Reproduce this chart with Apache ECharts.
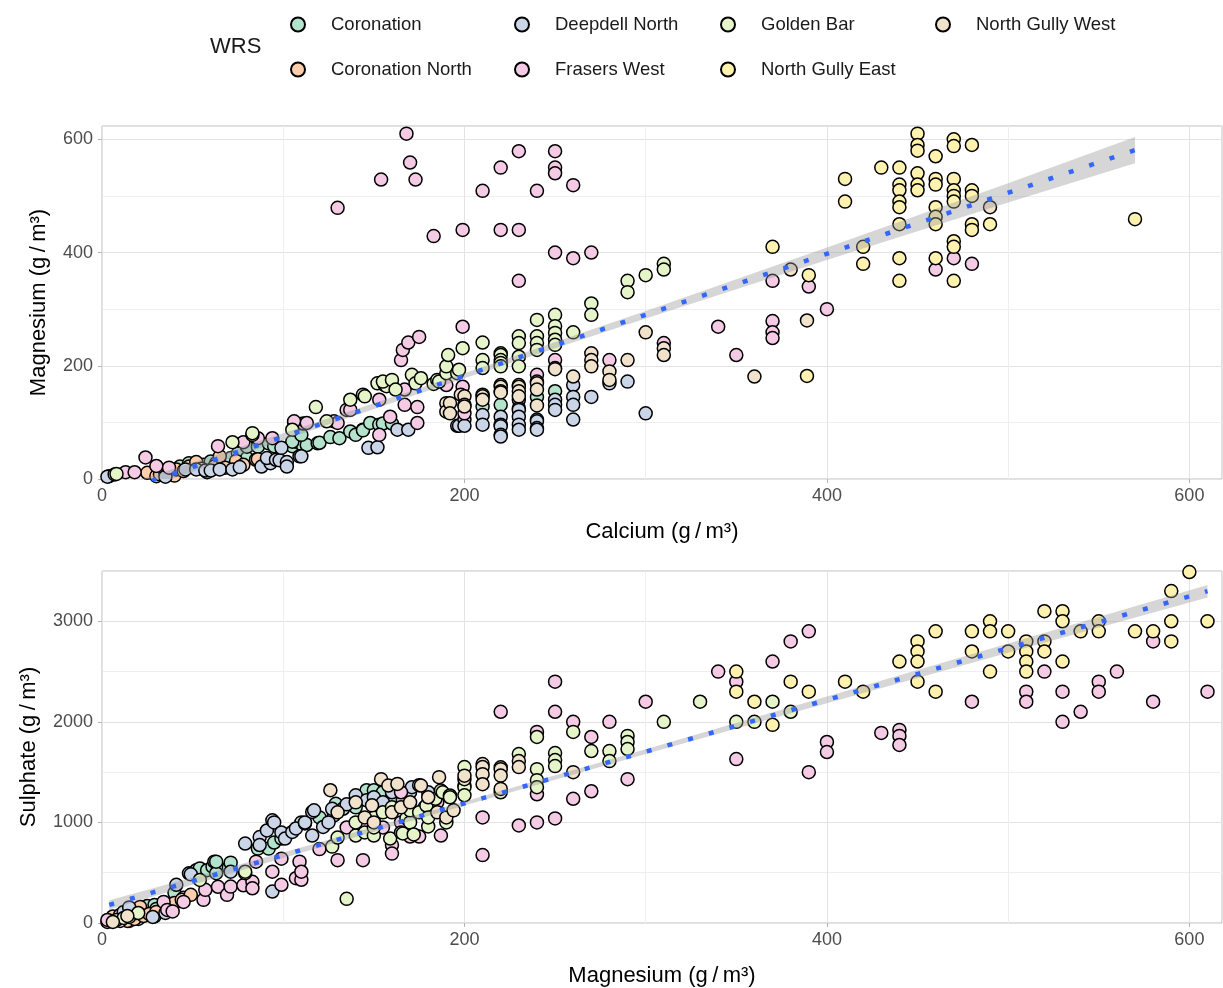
<!DOCTYPE html>
<html>
<head>
<meta charset="utf-8">
<script src="https://cdn.jsdelivr.net/npm/echarts@6/dist/echarts.min.js"></script>
<style>
  html, body { margin: 0; padding: 0; background: #fff; }
  #chart { width: 1223px; height: 988px; }
</style>
</head>
<body>
<div id="chart"></div>
<script>
// Waste rock stockpile (WRS) water chemistry: Mg vs Ca, and SO4 vs Mg (g/m3)
const sites = ['Coronation', 'Coronation North', 'Deepdell North', 'Frasers West',
               'Golden Bar', 'North Gully East', 'North Gully West'];
const siteColors = ['#B3E2CD', '#FDCDAC', '#CBD5E8', '#F4CAE4', '#E6F5C9', '#FFF2AE', '#F1E2CC'];

// ---- Calcium (x) vs Magnesium (y) ----
const caMgCoronation = [[35,15],[43,22],[48,28],[56,25],[60,31],[63,28],[71,37],[75,45],[80,37],[80,57],[86,57],[92,63],[95,58],[105,58],[107,66],[111,58],[105,66],[113,60],[110,78],[119,63],[120,64],[126,74],[131,72],[137,84],[140,78],[144,87],[144,86],[148,99],[153,96],[155,98],[160,98],[210,128],[220,131],[240,145],[250,155]];
const caMgCoronationNorth = [[4,5],[25,11],[30,5],[32,8],[35,10],[40,6],[41,17],[45,14],[48,22],[52,30],[55,18],[58,12],[62,22],[65,40],[68,20],[74,32],[78,25],[85,34],[86,35]];
const caMgDeepdell = [[3,4],[35,4],[46,17],[52,17],[57,15],[60,15],[65,17],[72,17],[76,21],[88,22],[93,28],[91,37],[96,34],[98,33],[102,30],[102,22],[109,40],[110,40],[99,55],[147,55],[152,56],[163,87],[169,87],[196,94],[197,94],[200,105],[200,94],[210,113],[210,96],[220,110],[220,96],[220,93],[220,78],[220,75],[230,140],[230,125],[230,122],[230,110],[230,96],[230,87],[240,105],[240,102],[240,90],[240,87],[250,140],[250,131],[250,122],[260,166],[260,145],[260,131],[260,105],[270,145],[280,169],[290,172],[300,116]];
const caMgFrasers = [[13,12],[18,12],[24,38],[30,23],[37,20],[64,58],[78,65],[86,72],[94,72],[106,100],[111,98],[106,102],[128,102],[113,99],[130,99],[135,122],[137,122],[153,78],[153,140],[159,110],[167,131],[167,158],[174,127],[174,99],[130,479],[154,529],[168,610],[170,559],[173,529],[165,210],[166,228],[169,241],[175,251],[183,429],[190,166],[199,440],[199,269],[199,163],[200,116],[210,509],[220,550],[220,440],[230,579],[230,440],[230,350],[240,509],[240,184],[250,579],[250,550],[250,540],[250,400],[250,210],[260,519],[260,390],[270,400],[280,210],[310,240],[340,269],[350,219],[370,350],[370,279],[370,259],[370,249],[390,340],[400,300],[460,370],[470,390],[480,380]];
const caMgGoldenBar = [[7,8],[8,9],[72,65],[83,78],[83,81],[105,87],[118,127],[124,102],[137,140],[144,149],[145,146],[152,169],[156,166],[157,164],[155,172],[160,175],[162,158],[171,184],[173,169],[176,178],[183,168],[185,175],[186,172],[190,187],[190,199],[191,219],[196,187],[197,193],[199,231],[210,241],[210,210],[210,196],[220,222],[220,219],[220,210],[220,205],[220,199],[230,252],[230,240],[230,216],[230,199],[240,281],[240,252],[240,240],[240,228],[250,290],[250,270],[250,258],[250,246],[250,237],[260,259],[270,310],[270,290],[290,350],[290,330],[300,360],[310,380],[310,370]];
const caMgNGEast = [[370,410],[389,182],[390,360],[410,530],[410,490],[420,410],[420,380],[430,550],[440,550],[440,520],[440,510],[440,490],[440,480],[440,450],[440,390],[440,350],[450,610],[450,590],[450,580],[450,540],[450,520],[450,510],[460,570],[460,530],[460,520],[460,480],[460,463],[460,450],[460,390],[470,600],[470,588],[470,530],[470,510],[470,500],[470,490],[470,420],[470,410],[470,350],[480,590],[480,510],[480,500],[480,450],[480,440],[490,450],[570,459]];
const caMgNGWest = [[190,134],[190,119],[192,134],[192,116],[198,149],[200,146],[200,131],[200,128],[210,149],[210,146],[210,140],[220,166],[220,163],[220,155],[220,153],[230,166],[230,163],[230,155],[230,146],[240,172],[240,169],[240,158],[240,130],[250,196],[250,194],[260,181],[270,222],[270,210],[270,199],[280,190],[280,175],[290,210],[300,259],[310,231],[310,219],[360,181],[380,370],[389,280],[490,480]];

// ---- Magnesium (x) vs Sulphate (y) ----
const mgSo4Coronation = [[15,20],[20,40],[25,110],[25,170],[29,65],[29,180],[30,140],[35,150],[37,180],[40,300],[45,250],[48,494],[50,494],[52,525],[54,543],[58,525],[61,560],[62,610],[63,495],[63,610],[70,550],[71,600],[86,740],[92,740],[95,800],[99,840],[110,1000],[120,1050],[128,1070],[129,1185],[133,1136],[140,1150],[146,1320],[150,1320],[155,1300],[160,1250]];
const mgSo4CoronationNorth = [[3,10],[6,65],[8,30],[10,80],[12,45],[14,20],[17,100],[18,40],[19,100],[21,160],[23,70],[26,90],[30,110],[36,160],[40,200],[44,230],[49,280]];
const mgSo4Deepdell = [[5,20],[12,110],[15,155],[28,60],[35,100],[41,380],[49,484],[71,510],[79,790],[87,855],[87,775],[91,920],[94,313],[94,1021],[95,1000],[99,900],[101,840],[105,905],[107,940],[112,990],[112,1000],[116,870],[116,1104],[117,1120],[122,955],[125,1000],[127,1135],[135,1180],[140,1270],[146,1220],[150,1250],[155,1200],[160,1300],[166,1220],[170,1300],[171,1350],[180,1300]];
const mgSo4Frasers = [[3,30],[10,20],[34,210],[36,130],[39,115],[45,210],[56,230],[57,330],[64,360],[69,280],[71,362],[78,375],[83,410],[83,345],[85,610],[94,510],[99,380],[99,640],[107,445],[109,610],[110,430],[110,510],[120,735],[130,625],[135,950],[144,625],[145,1000],[150,900],[155,950],[160,775],[160,690],[165,1000],[165,1300],[170,860],[170,1050],[175,860],[178,1150],[185,1200],[187,870],[210,1050],[210,675],[220,2100],[230,970],[240,1900],[240,1280],[240,1000],[250,2400],[250,2100],[250,1040],[260,2000],[260,1235],[270,1850],[270,1310],[280,2000],[290,1430],[300,2200],[340,2500],[350,2400],[350,1630],[370,2600],[380,2800],[390,2900],[390,1500],[400,1800],[400,1700],[430,1890],[440,1920],[440,1860],[440,1770],[480,2200],[510,2300],[510,2200],[520,2500],[530,2300],[530,2000],[540,2100],[550,2400],[550,2300],[560,2500],[580,2800],[580,2200],[610,2300]];
const mgSo4GoldenBar = [[8,30],[12,50],[15,60],[20,100],[54,428],[79,495],[79,510],[127,760],[130,850],[135,240],[140,870],[140,1000],[145,900],[150,870],[150,950],[150,1050],[155,1100],[159,840],[160,1150],[165,900],[166,890],[168,1040],[170,1000],[170,1120],[172,880],[175,1100],[179,1168],[180,960],[180,1050],[184,1235],[187,1317],[188,1300],[190,1000],[192,1268],[192,1250],[200,1550],[200,1370],[200,1350],[200,1270],[220,1300],[230,1680],[240,1850],[240,1530],[240,1420],[240,1350],[250,1690],[250,1620],[250,1560],[260,1900],[270,1710],[280,1710],[280,1610],[290,1860],[290,1800],[290,1730],[310,2000],[330,2200],[350,2000],[360,2000],[370,2200],[380,2100]];
const mgSo4NGEast = [[350,2500],[350,2300],[360,2200],[370,1970],[380,2400],[390,2300],[410,2400],[420,2300],[440,2600],[450,2800],[450,2700],[450,2600],[450,2400],[460,2900],[460,2300],[480,2900],[480,2700],[490,3000],[490,2900],[490,2500],[500,2900],[500,2700],[510,2800],[510,2700],[510,2600],[510,2500],[520,3100],[520,2800],[520,2700],[530,3100],[530,3000],[530,2600],[540,2900],[550,3000],[550,2900],[570,2900],[580,2900],[590,3300],[590,3000],[590,2800],[600,3490],[610,3000]];
const mgSo4NGWest = [[6,10],[14,70],[126,1320],[130,1100],[140,1200],[145,1050],[149,1170],[150,1000],[154,1430],[158,1367],[160,1100],[163,1383],[165,1150],[170,1200],[175,1370],[176,1367],[180,1250],[185,1100],[186,1450],[190,1050],[194,1120],[200,1430],[200,1465],[210,1580],[210,1550],[210,1480],[210,1380],[220,1548],[220,1530],[220,1466],[220,1333],[230,1610],[230,1550],[260,1500]];

// Linear fits with 95% confidence bands
const fitCaMgX = [5, 570];
const fitCaMgY = [-27.6, 580.9];
const bandCaMgX  = [5, 100, 200, 300, 400, 500, 570];
const bandCaMgLo = [-37.6, 68.7, 177.9, 283.6, 386.8, 488.5, 557.9];
const bandCaMgHi = [-17.6, 80.7, 186.9, 296.6, 408.8, 522.5, 603.9];

const fitMgSo4X = [4, 610];
const fitMgSo4Y = [180.3, 3299.4];
const bandMgSo4X  = [4, 100, 200, 300, 400, 500, 610];
const bandMgSo4Lo = [135, 646, 1169, 1680, 2184, 2687, 3237];
const bandMgSo4Hi = [225, 702, 1209, 1728, 2252, 2779, 3361];

// Axis ticks
const caTicks = [0, 200, 400, 600];
const mgTicks = [0, 200, 400, 600];
const so4Ticks = [0, 1000, 2000, 3000];

const caMgBySite = [caMgCoronation, caMgCoronationNorth, caMgDeepdell, caMgFrasers, caMgGoldenBar, caMgNGEast, caMgNGWest];
const mgSo4BySite = [mgSo4Coronation, mgSo4CoronationNorth, mgSo4Deepdell, mgSo4Frasers, mgSo4GoldenBar, mgSo4NGEast, mgSo4NGWest];

const FONT = '"Liberation Sans", Arial, sans-serif';
const tickColor = '#4d4d4d';
const unit = ' (g\u2009/\u2009m\u00B3)';

function valueAxis(ticks, max, name, isY) {
  const step = ticks[1] - ticks[0];
  return {
    type: 'value',
    min: ticks[0],
    max: max,
    interval: step,
    name: name,
    nameLocation: 'middle',
    nameGap: isY ? 52 : 42,
    nameRotate: isY ? 90 : 0,
    nameTextStyle: { fontFamily: FONT, fontSize: 22, color: '#000' },
    axisLine: { show: false },
    axisTick: { show: true, length: 4, lineStyle: { color: '#b3b3b3', width: 1 } },
    axisLabel: {
      fontFamily: FONT, fontSize: 18, color: tickColor, margin: isY ? 9 : 8,
      showMaxLabel: false,
      formatter: v => (ticks.indexOf(v) >= 0 ? String(v) : '')
    },
    splitLine: { show: true, lineStyle: { color: '#e3e3e3', width: 1 } },
    minorTick: { show: false, splitNumber: 2 },
    minorSplitLine: { show: true, lineStyle: { color: '#efefef', width: 1 } }
  };
}

function bandSeries(xs, lo, hi, axisIdx) {
  return {
    type: 'custom',
    xAxisIndex: axisIdx, yAxisIndex: axisIdx,
    z: 5, clip: true, silent: true,
    data: xs.map((x, i) => [x, lo[i], hi[i]]),
    renderItem: function (params, api) {
      if (params.dataIndex !== 0) return null;
      const upper = xs.map((x, i) => api.coord([x, hi[i]]));
      const lower = xs.map((x, i) => api.coord([x, lo[i]])).reverse();
      return {
        type: 'polygon',
        shape: { points: upper.concat(lower) },
        style: { fill: 'rgba(153,153,153,0.4)', stroke: null }
      };
    }
  };
}

function fitSeries(xs, ys, axisIdx) {
  return {
    type: 'line',
    xAxisIndex: axisIdx, yAxisIndex: axisIdx,
    z: 6, silent: true, showSymbol: false, clip: true,
    data: xs.map((x, i) => [x, ys[i]]),
    lineStyle: { color: '#3366FF', width: 4.5, type: [5, 16.5], cap: 'butt' }
  };
}

const series = [];
sites.forEach((s, i) => {
  [caMgBySite[i], mgSo4BySite[i]].forEach((pts, axisIdx) => {
    series.push({
      name: s,
      type: 'scatter',
      xAxisIndex: axisIdx, yAxisIndex: axisIdx,
      data: pts,
      symbol: 'circle',
      symbolSize: 13,
      z: 2,
      itemStyle: { color: siteColors[i], borderColor: '#000', borderWidth: 1.5, opacity: 1 },
      emphasis: { disabled: true }
    });
  });
});
series.push(bandSeries(bandCaMgX, bandCaMgLo, bandCaMgHi, 0));
series.push(fitSeries(fitCaMgX, fitCaMgY, 0));
series.push(bandSeries(bandMgSo4X, bandMgSo4Lo, bandMgSo4Hi, 1));
series.push(fitSeries(fitMgSo4X, fitMgSo4Y, 1));

const legendColumns = [
  { left: 290, items: ['Coronation', 'Coronation North'] },
  { left: 514, items: ['Deepdell North', 'Frasers West'] },
  { left: 720, items: ['Golden Bar', 'North Gully East'] },
  { left: 935, items: ['North Gully West'] }
];

const option = {
  animation: false,
  backgroundColor: '#fff',
  textStyle: { fontFamily: FONT },
  graphic: [{
    type: 'text', left: 210, top: 36,
    style: { text: 'WRS', fontFamily: FONT, fontSize: 22, fill: '#1a1a1a' }
  }],
  legend: legendColumns.map(c => ({
    orient: 'vertical',
    left: c.left, top: 15,
    padding: 0,
    itemWidth: 14, itemHeight: 14, itemGap: 26,
    icon: 'circle',
    selectedMode: false,
    data: c.items,
    textStyle: { fontFamily: FONT, fontSize: 18.5, color: '#1a1a1a', lineHeight: 14, padding: [0, 0, 0, 21] }
  })),
  grid: [
    { left: 102, top: 126, width: 1120, height: 353, show: true, borderColor: '#bdbdbd', borderWidth: 1, backgroundColor: 'transparent' },
    { left: 102, top: 571, width: 1120, height: 354, show: true, borderColor: '#bdbdbd', borderWidth: 1, backgroundColor: 'transparent' }
  ],
  xAxis: [
    Object.assign(valueAxis(caTicks, 618, 'Calcium' + unit, false), { gridIndex: 0 }),
    Object.assign(valueAxis(mgTicks, 618, 'Magnesium' + unit, false), { gridIndex: 1 })
  ],
  yAxis: [
    Object.assign(valueAxis(mgTicks, 623.5, 'Magnesium' + unit, true), { gridIndex: 0 }),
    Object.assign(valueAxis(so4Ticks, 3500, 'Sulphate' + unit, true), { gridIndex: 1, nameGap: 62 })
  ],
  series: series
};

const chart = echarts.init(document.getElementById('chart'), null, { renderer: 'canvas' });
chart.setOption(option);
</script>
</body>
</html>
